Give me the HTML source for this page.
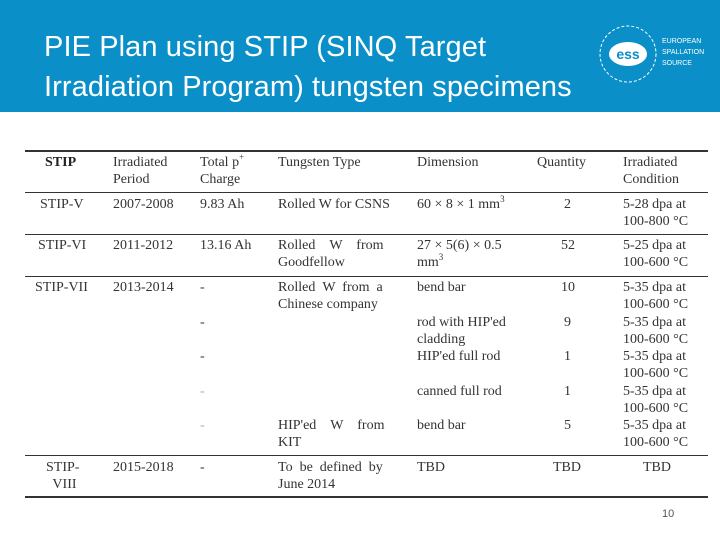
<!DOCTYPE html>
<html><head><meta charset="utf-8"><style>
body{margin:0;width:720px;height:540px;position:relative;background:#fff;overflow:hidden;font-family:"Liberation Serif",serif;}
.hdr{position:absolute;left:0;top:0;width:720px;height:112px;background:#0a8fc8;}
.title{position:absolute;left:44px;top:27px;color:#fff;font-family:"Liberation Sans",sans-serif;font-size:29px;line-height:40px;letter-spacing:0.1px;}
.t{position:absolute;font-size:14px;color:#333;line-height:17px;white-space:nowrap;}
.b{font-weight:bold;color:#222;}
sup{font-size:9px;line-height:0;vertical-align:6px;}
.ln{position:absolute;left:25px;width:683px;background:#333;}
</style></head><body>
<div class="hdr"></div>
<div class="title">PIE Plan using STIP (SINQ Target<br>Irradiation Program) tungsten specimens</div>
<svg style="position:absolute;left:596px;top:22px" width="120" height="64">
<circle cx="32" cy="32" r="28" fill="none" stroke="#fff" stroke-width="1" stroke-dasharray="3 2"/>
<ellipse cx="32" cy="32" rx="19" ry="12" fill="#fff"/>
<text x="32" y="37" font-family="Liberation Sans" font-weight="bold" font-size="14" fill="#0a8fc8" text-anchor="middle">ess</text>
<text x="66" y="21" font-family="Liberation Sans" font-size="7" fill="#fff">EUROPEAN</text>
<text x="66" y="32" font-family="Liberation Sans" font-size="7" fill="#fff">SPALLATION</text>
<text x="66" y="43" font-family="Liberation Sans" font-size="7" fill="#fff">SOURCE</text>
</svg>
<div class="ln" style="top:150px;height:2px"></div>
<div class="ln" style="top:192px;height:1px"></div>
<div class="ln" style="top:234px;height:1px"></div>
<div class="ln" style="top:276px;height:1px"></div>
<div class="ln" style="top:455px;height:1px"></div>
<div class="ln" style="top:496px;height:2px"></div>
<div>
<div class="t b" style="left:45px;top:154px">STIP</div>
<div class="t" style="left:113px;top:154px">Irradiated<br>Period</div>
<div class="t" style="left:200px;top:154px">Total p<sup>+</sup><br>Charge</div>
<div class="t" style="left:278px;top:154px">Tungsten Type</div>
<div class="t" style="left:417px;top:154px">Dimension</div>
<div class="t" style="left:537px;top:154px">Quantity</div>
<div class="t" style="left:623px;top:154px">Irradiated<br>Condition</div>

<div class="t" style="left:40px;top:196px">STIP-V</div>
<div class="t" style="left:113px;top:196px">2007-2008</div>
<div class="t" style="left:200px;top:196px">9.83 Ah</div>
<div class="t" style="left:278px;top:196px">Rolled W for CSNS</div>
<div class="t" style="left:417px;top:196px">60 × 8 × 1 mm<sup>3</sup></div>
<div class="t" style="left:564px;top:196px">2</div>
<div class="t" style="left:623px;top:196px">5-28 dpa at<br>100-800 °C</div>

<div class="t" style="left:38px;top:237px">STIP-VI</div>
<div class="t" style="left:113px;top:237px">2011-2012</div>
<div class="t" style="left:200px;top:237px">13.16 Ah</div>
<div class="t" style="left:278px;top:237px">Rolled &nbsp;&nbsp;&nbsp;W &nbsp;&nbsp;&nbsp;from<br>Goodfellow</div>
<div class="t" style="left:417px;top:237px">27 × 5(6) × 0.5<br>mm<sup>3</sup></div>
<div class="t" style="left:561px;top:237px">52</div>
<div class="t" style="left:623px;top:237px">5-25 dpa at<br>100-600 °C</div>

<div class="t" style="left:35px;top:279px">STIP-VII</div>
<div class="t" style="left:113px;top:279px">2013-2014</div>
<div class="t" style="left:200px;top:279px">-</div>
<div class="t" style="left:278px;top:279px">Rolled &nbsp;W &nbsp;from &nbsp;a<br>Chinese company</div>
<div class="t" style="left:417px;top:279px">bend bar</div>
<div class="t" style="left:561px;top:279px">10</div>
<div class="t" style="left:623px;top:279px">5-35 dpa at<br>100-600 °C</div>

<div class="t" style="left:200px;top:314px">-</div>
<div class="t" style="left:417px;top:314px">rod with HIP'ed<br>cladding</div>
<div class="t" style="left:564px;top:314px">9</div>
<div class="t" style="left:623px;top:314px">5-35 dpa at<br>100-600 °C</div>

<div class="t" style="left:200px;top:348px">-</div>
<div class="t" style="left:417px;top:348px">HIP'ed full rod</div>
<div class="t" style="left:564px;top:348px">1</div>
<div class="t" style="left:623px;top:348px">5-35 dpa at<br>100-600 °C</div>

<div class="t" style="left:200px;top:383px;color:#aaa">-</div>
<div class="t" style="left:417px;top:383px">canned full rod</div>
<div class="t" style="left:564px;top:383px">1</div>
<div class="t" style="left:623px;top:383px">5-35 dpa at<br>100-600 °C</div>

<div class="t" style="left:200px;top:417px;color:#aaa">-</div>
<div class="t" style="left:278px;top:417px">HIP'ed &nbsp;&nbsp;&nbsp;W &nbsp;&nbsp;&nbsp;from<br>KIT</div>
<div class="t" style="left:417px;top:417px">bend bar</div>
<div class="t" style="left:564px;top:417px">5</div>
<div class="t" style="left:623px;top:417px">5-35 dpa at<br>100-600 °C</div>

<div class="t" style="left:46px;top:459px;text-align:center">STIP-<br>&nbsp;VIII</div>
<div class="t" style="left:113px;top:459px">2015-2018</div>
<div class="t" style="left:200px;top:459px">-</div>
<div class="t" style="left:278px;top:459px">To &nbsp;be &nbsp;defined &nbsp;by<br>June 2014</div>
<div class="t" style="left:417px;top:459px">TBD</div>
<div class="t" style="left:553px;top:459px">TBD</div>
<div class="t" style="left:643px;top:459px">TBD</div>
</div>
<div style="position:absolute;left:662px;top:508px;font-family:'Liberation Sans',sans-serif;font-size:11px;color:#555">10</div>
</body></html>
